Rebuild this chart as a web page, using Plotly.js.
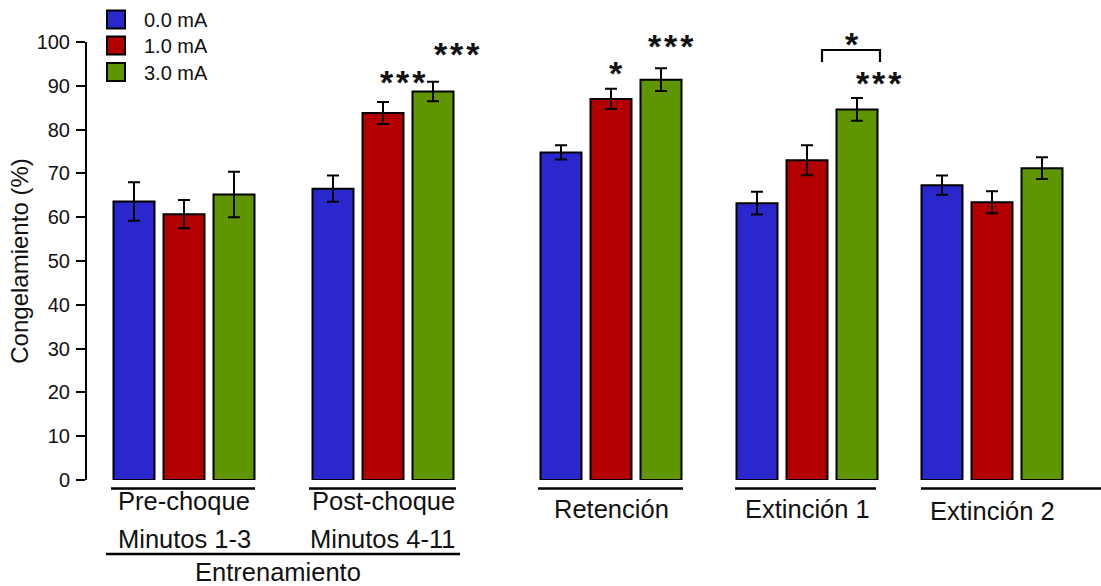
<!DOCTYPE html>
<html><head><meta charset="utf-8">
<script src="https://cdn.plot.ly/plotly-3.0.1.min.js"></script>
<style>html,body{margin:0;padding:0;background:#fff}#chart{width:1101px;height:586px}</style>
</head><body><div id="chart"></div>
<script>
// ---------- data ----------
const categoryLines = [['Pre-choque','Minutos 1-3'],['Post-choque','Minutos 4-11'],['Retención'],['Extinción 1'],['Extinción 2']];
const superGroupLabel = 'Entrenamiento';
const seriesNames = ['0.0 mA','1.0 mA','3.0 mA'];
const freeze00 = [63.6, 66.5, 74.8, 63.2, 67.3];
const freeze10 = [60.7, 83.8, 87.0, 73.0, 63.4];
const freeze30 = [65.2, 88.7, 91.4, 84.6, 71.2];
const sem00 = [4.4, 3.0, 1.6, 2.6, 2.2];
const sem10 = [3.2, 2.5, 2.3, 3.4, 2.5];
const sem30 = [5.2, 2.2, 2.6, 2.6, 2.5];
const yTickVals = [0,10,20,30,40,50,60,70,80,90,100];
const yTitle = 'Congelamiento (%)';
const sigLabels = ['***','***','*','***','***'];
const sigCategory = [1,1,2,2,3];
const sigSeries = [1,2,1,2,2];
const bracketLabel = '*';

// ---------- layout / style ----------
const W = 1101, H = 586, ML = 87, MR = 0, MT = 42, MB = 106;
const FONT = 'Liberation Sans, Arial, Helvetica, sans-serif';
const colors = ['#2a28cc', '#b20000', '#5f9600'];
const groupCenters = [184, 383, 611, 807, 992];
const barPitch = 50, barWidth = 41;
const means = [freeze00, freeze10, freeze30];
const sems = [sem00, sem10, sem30];
const px2x = p => (p - ML) / (W - ML - MR);
const py2y = p => (H - MB - p) / (H - MT - MB);

const traces = seriesNames.map((name, s) => ({
  type: 'bar',
  name: name,
  x: groupCenters.map(c => c + (s - 1) * barPitch),
  y: means[s],
  width: barWidth,
  marker: {color: colors[s], line: {color: '#000', width: 2}},
  error_y: {type: 'data', array: sems[s], visible: true, color: '#000', thickness: 2, width: 6},
  showlegend: false,
  hoverinfo: 'skip'
}));

const shapes = [];
const annotations = [];

// group underlines
const underlineSpans = [[111,255],[309,456],[538,683],[735,876],[921,1101]];
underlineSpans.forEach(sp => shapes.push({type:'line', xref:'paper', yref:'paper',
  x0:px2x(sp[0]), x1:px2x(sp[1]), y0:py2y(488.5), y1:py2y(488.5), line:{color:'#000', width:2.5}}));
// super-group underline
shapes.push({type:'line', xref:'paper', yref:'paper', x0:px2x(106), x1:px2x(460), y0:py2y(554), y1:py2y(554), line:{color:'#000', width:2.5}});

// category labels
const labelFirstY = [501, 501, 509, 509, 511];
const lineGap = 38;
categoryLines.forEach((lines, g) => {
  lines.forEach((t, k) => annotations.push({text: t, xref:'x', yref:'paper', x: groupCenters[g], y: py2y(labelFirstY[g] + k*lineGap),
    xanchor:'center', yanchor:'middle', showarrow:false, font:{family:FONT, size:25.5, color:'#111'}}));
});
annotations.push({text: superGroupLabel, xref:'paper', yref:'paper', x: px2x(277.5), y: py2y(572), xanchor:'center', yanchor:'middle',
  showarrow:false, font:{family:FONT, size:25.5, color:'#111'}});

// legend (drawn manually)
const legendRowY = [19.5, 45.5, 72];
seriesNames.forEach((name, s) => {
  shapes.push({type:'rect', xref:'paper', yref:'paper', x0:px2x(107), x1:px2x(125), y0:py2y(legendRowY[s]-9), y1:py2y(legendRowY[s]+9),
    fillcolor: colors[s], line:{color:'#000', width:2}});
  annotations.push({text: name, xref:'paper', yref:'paper', x: px2x(142), y: py2y(legendRowY[s]+0.5), xanchor:'left', yanchor:'middle',
    showarrow:false, font:{family:FONT, size:20, color:'#111'}});
});

// significance marks
const STAR_SIZE = 34;
const STAR_DY = 3.5;  // offset between glyph centre and text box middle
const starXShift = [19.5, 23.5, 4.5, 10, 22];
const starGap = [24, 31, 19, 26, 19];
sigLabels.forEach((lab, i) => {
  const g = sigCategory[i], s = sigSeries[i];
  annotations.push({text: lab.split('').join('\u200A'), xref:'x', yref:'y',
    x: groupCenters[g] + (s - 1) * barPitch, y: means[s][g] + sems[s][g],
    xshift: starXShift[i], yshift: starGap[i] - STAR_DY,
    xanchor:'center', yanchor:'middle', showarrow:false, font:{family:FONT, size:STAR_SIZE, color:'#111', weight:'bold'}});
});
// bracket between 1.0 mA and 3.0 mA in Extinción 1
shapes.push({type:'path', xref:'paper', yref:'paper',
  path: `M ${px2x(822)},${py2y(62)} L ${px2x(822)},${py2y(50)} L ${px2x(880)},${py2y(50)} L ${px2x(880)},${py2y(62)}`,
  line:{color:'#000', width:2.2}});
annotations.push({text: bracketLabel, xref:'paper', yref:'paper', x: px2x(851.7), y: py2y(40 + STAR_DY),
  xanchor:'center', yanchor:'middle', showarrow:false, font:{family:FONT, size:STAR_SIZE, color:'#111', weight:'bold'}});

const layout = {
  width: W, height: H,
  margin: {l: ML, r: MR, t: MT, b: MB, pad: 0},
  paper_bgcolor: '#fff', plot_bgcolor: '#fff',
  font: {family: FONT, color: '#111'},
  barmode: 'overlay',
  showlegend: false,
  xaxis: {range: [ML, W - MR], visible: false, fixedrange: true},
  yaxis: {range: [0, 100], tickvals: yTickVals, ticks: 'outside', ticklen: 9, tickwidth: 2, tickcolor: '#000',
    showline: true, linewidth: 2, linecolor: '#000', showgrid: false, zeroline: false,
    tickfont: {family: FONT, size: 20, color: '#111'}, ticklabelstandoff: 2,
    title: {text: yTitle, font: {family: FONT, size: 24, color: '#111'}, standoff: 1},
    fixedrange: true},
  shapes: shapes,
  annotations: annotations
};

Plotly.newPlot('chart', traces, layout, {displayModeBar: false, staticPlot: true});
</script>
</body></html>
